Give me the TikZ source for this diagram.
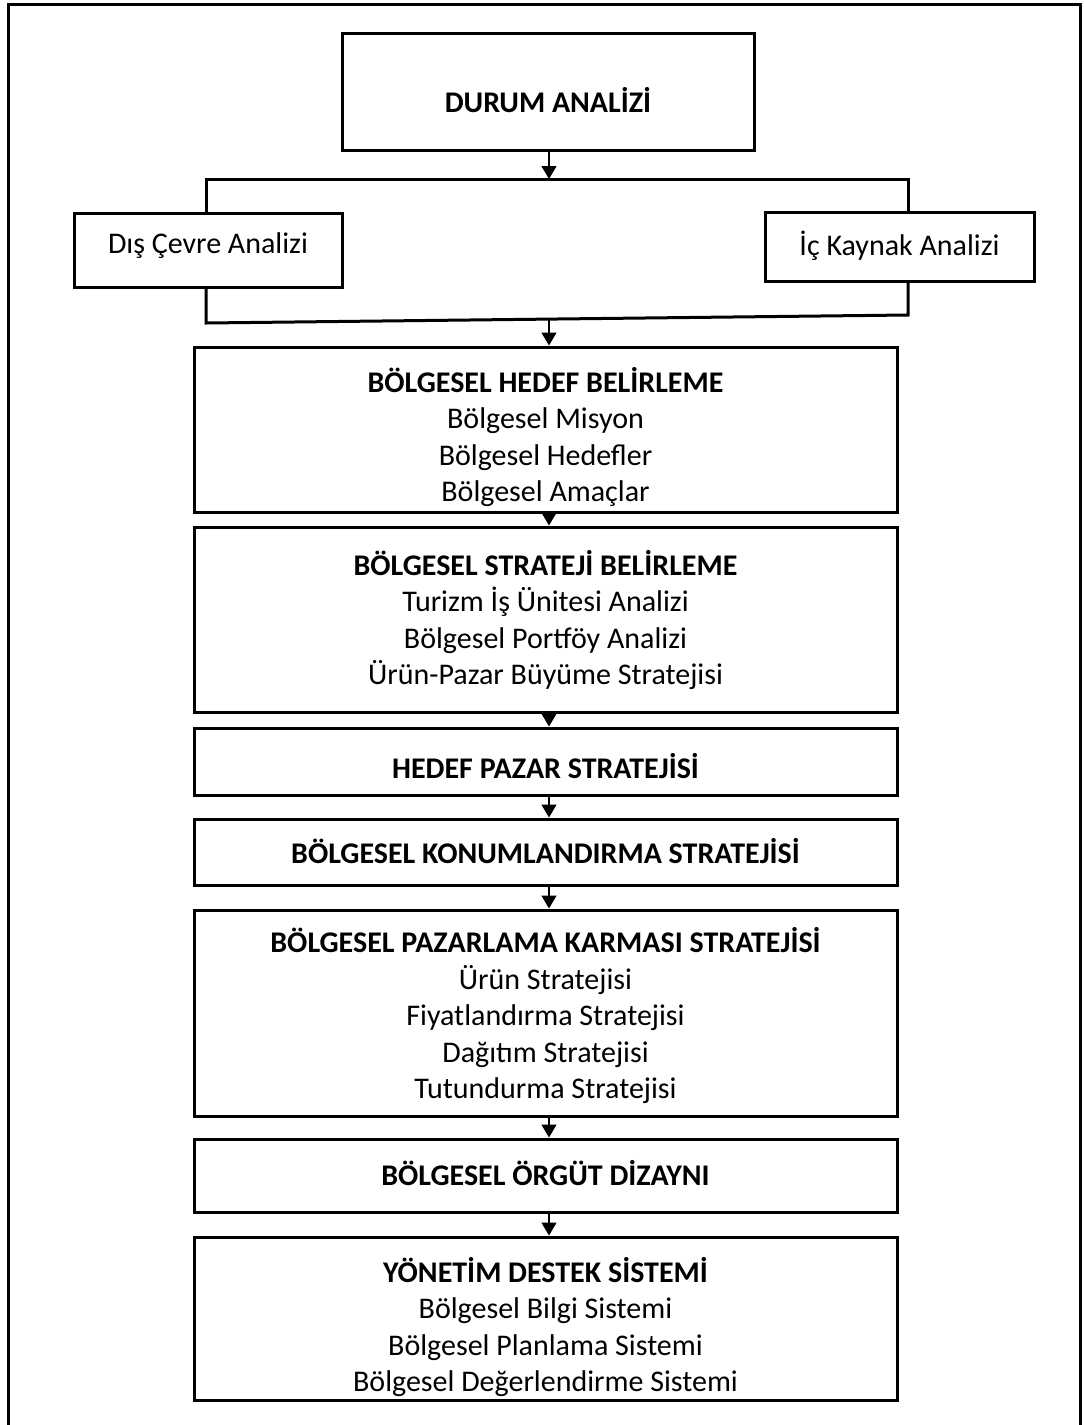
\documentclass[tikz,border=0pt]{standalone}
\usepackage{fontspec}
\setmainfont{Carlito}
\usetikzlibrary{arrows.meta}
\begin{document}
\begin{tikzpicture}[x=0.5pt,y=-0.5pt,
  panel/.style={draw,line width=1.5pt,inner sep=0pt},
  txt/.style={align=center,inner sep=0pt,font=\fontsize{15}{18.25}\selectfont},
  flow/.style={line width=0.7pt,-{Triangle[width=7.5pt,length=6.5pt]}},
  link/.style={line width=1.5pt}]
\useasboundingbox (0,0) rectangle (1083,1425);

% outer frame, open at the bottom
\draw[line width=1.5pt] (8,1425) -- (8,4) -- (1080,4) -- (1080,1425);

% frames of the boxes
\node[panel,minimum width=206pt,minimum height=58.5pt] (durum) at (548,91.5) {};
\node[panel,minimum width=134pt,minimum height=37pt] (dis) at (208,250) {};
\node[panel,minimum width=134.5pt,minimum height=34.5pt] (ic) at (899.5,246.5) {};
\node[panel,minimum width=351.5pt,minimum height=82.5pt] (hedef) at (545.5,429.5) {};
\node[panel,minimum width=351.5pt,minimum height=92.5pt] (strateji) at (545.5,619.5) {};
\node[panel,minimum width=351.5pt,minimum height=33.5pt] (pazar) at (545.5,761.5) {};
\node[panel,minimum width=351.5pt,minimum height=33pt] (konum) at (545.5,852) {};
\node[panel,minimum width=351.5pt,minimum height=103pt] (karma) at (545.5,1013) {};
\node[panel,minimum width=351.5pt,minimum height=36.5pt] (orgut) at (545.5,1175.5) {};
\node[panel,minimum width=351.5pt,minimum height=81.5pt] (yonetim) at (545.5,1318.5) {};

% texts of the boxes
\node[txt] (durum-t) at (548,100) {\textbf{DURUM ANALİZİ}};
\node[txt] (dis-t) at (208,246) {Dış Çevre Analizi};
\node[txt] (ic-t) at (899.5,246) {İç Kaynak Analizi};
\node[txt] (hedef-t) at (545.5,437) {\textbf{BÖLGESEL HEDEF BELİRLEME}\\Bölgesel Misyon\\Bölgesel Hedefler\\Bölgesel Amaçlar};
\node[txt] (strateji-t) at (545.5,620) {\textbf{BÖLGESEL STRATEJİ BELİRLEME}\\Turizm İş Ünitesi Analizi\\Bölgesel Portföy Analizi\\Ürün-Pazar Büyüme Stratejisi};
\node[txt] (pazar-t) at (545.5,766) {\textbf{HEDEF PAZAR STRATEJİSİ}};
\node[txt] (konum-t) at (545.5,851) {\textbf{BÖLGESEL KONUMLANDIRMA STRATEJİSİ}};
\node[txt] (karma-t) at (545.5,1016) {\textbf{BÖLGESEL PAZARLAMA KARMASI STRATEJİSİ}\\Ürün Stratejisi\\Fiyatlandırma Stratejisi\\Dağıtım Stratejisi\\Tutundurma Stratejisi};
\node[txt] (orgut-t) at (545.5,1173) {\textbf{BÖLGESEL ÖRGÜT DİZAYNI}};
\node[txt] (yonetim-t) at (545.5,1327) {\textbf{YÖNETİM DESTEK SİSTEMİ}\\Bölgesel Bilgi Sistemi\\Bölgesel Planlama Sistemi\\Bölgesel Değerlendirme Sistemi};

% split into the two analyses and join again
\coordinate (split) at (549,179);
\coordinate (join) at (549,319);
\draw[link] (dis.north -| 206,0) -- (206,179) -- (908,179) -- (ic.north -| 908,0);
\draw[link] (dis.south -| 206,0) -- (206,323) -- (908,315) -- (ic.south -| 908,0);

% arrows down the chain
\draw[flow] (durum.south -| split) -- (split);
\draw[flow] (join) -- (hedef.north -| join);
\draw[flow] (hedef.south -| join) -- (strateji.north -| join);
\draw[flow] (strateji.south -| join) -- (pazar.north -| join);
\draw[flow] (pazar.south -| join) -- (konum.north -| join);
\draw[flow] (konum.south -| join) -- (karma.north -| join);
\draw[flow] (karma.south -| join) -- (orgut.north -| join);
\draw[flow] (orgut.south -| join) -- (yonetim.north -| join);
\end{tikzpicture}
\end{document}
